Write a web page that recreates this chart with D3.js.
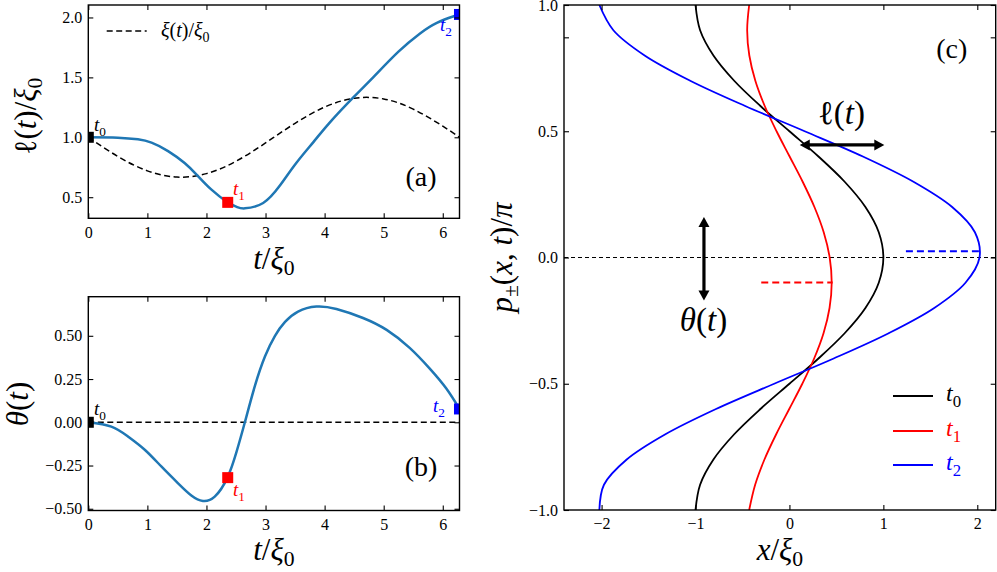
<!DOCTYPE html>
<html>
<head>
<meta charset="utf-8">
<script src="https://cdn.jsdelivr.net/npm/d3@7"></script>
<style>
  html, body { margin: 0; padding: 0; background: #fff; }
  svg { display: block; }
</style>
</head>
<body>
<script>
// ---------------- DATA ----------------
// Panel (a): ell(t)/xi0
const tEll    = [0, 0.5, 0.84, 1.07, 1.35, 1.63, 1.84, 2.08, 2.36, 2.51, 2.65, 2.96, 3.24, 3.52, 3.81, 4.09, 4.49, 4.83, 5.25, 5.61, 5.9, 6.2, 6.283];
const ellVals = [1.0, 0.997, 0.983, 0.955, 0.885, 0.785, 0.685, 0.565, 0.457, 0.42, 0.407, 0.452, 0.595, 0.785, 0.96, 1.125, 1.335, 1.505, 1.715, 1.865, 1.955, 2.012, 2.025];
// Panel (a): xi(t)/xi0 (dashed)
const tXi    = [0, 0.5, 1.0, 1.5, 2.0, 2.5, 3.0, 3.5, 4.0, 4.5, 5.0, 5.5, 6.0, 6.283];
const xiVals = [1.0, 0.84, 0.72, 0.668, 0.697, 0.80, 0.953, 1.117, 1.252, 1.326, 1.32, 1.235, 1.093, 1.0];
// Panel (b): theta(t)
const tTheta    = [0, 0.39, 0.675, 0.96, 1.24, 1.52, 1.75, 1.94, 2.14, 2.355, 2.51, 2.65, 2.82, 2.99, 3.16, 3.33, 3.55, 3.86, 4.2, 4.65, 5.05, 5.44, 5.78, 6.06, 6.283];
const thetaVals = [0, -0.025, -0.083, -0.16, -0.257, -0.353, -0.425, -0.455, -0.43, -0.32, -0.17, 0, 0.21, 0.38, 0.5, 0.58, 0.64, 0.669, 0.655, 0.603, 0.534, 0.43, 0.31, 0.195, 0.077];
// Marked times t0, t1, t2
const markNames = ["0", "1", "2"];
const markT     = [0, 2.36, 6.283];
const markEll   = [1.0, 0.457, 2.025];
const markTheta = [0.0, -0.32, 0.077];
// Panel (c): profiles x(p) at t0, t1, t2
const pGrid = [-1, -0.9, -0.8, -0.7, -0.6, -0.5, -0.4, -0.3, -0.2, -0.1, 0, 0.1, 0.2, 0.3, 0.4, 0.5, 0.6, 0.7, 0.8, 0.9, 1];
const xT0 = [-1, -0.951, -0.809, -0.588, -0.309, 0, 0.309, 0.588, 0.809, 0.951, 1, 0.951, 0.809, 0.588, 0.309, 0, -0.309, -0.588, -0.809, -0.951, -1];
const xT1 = [-0.4285, -0.365, -0.266, -0.141, -0.002, 0.137, 0.263, 0.363, 0.427, 0.45, 0.4285, 0.365, 0.266, 0.141, 0.002, -0.137, -0.263, -0.363, -0.427, -0.45, -0.4285];
const xT2 = [-2.0235, -1.9746, -1.7324, -1.3205, -0.7818, -0.1622, 0.471, 1.0566, 1.5416, 1.8743, 2.0235, 1.9746, 1.7324, 1.3205, 0.7818, 0.1622, -0.471, -1.0566, -1.5416, -1.8743, -2.0235];
// Panel (c): dashed peak markers (t2, t1)
const peakP  = [0.025, -0.099];
const peakX1 = [1.24, -0.30];
const peakX2 = [2.03, 0.46];
// Panel (c): annotation arrows
const ellArrowP = 0.446, ellArrowX = [0.11, 1.01];
const thArrowX = -0.91, thArrowP = [-0.17, 0.16];
// Tick values
const tTicks = [0, 1, 2, 3, 4, 5, 6];
const ellTicks = [0.5, 1.0, 1.5, 2.0];
const thetaTicks = [-0.5, -0.25, 0, 0.25, 0.5];
const cxTicks = [-2, -1, 0, 1, 2];
const cyTicks = [-1, -0.5, 0, 0.5, 1];

// ---------------- STYLE ----------------
const FONT = "'Liberation Serif', 'DejaVu Serif', serif";
const C_BLUE = "#1f77b4";
const markColors = ["#000000", "#ff0000", "#0000ff"];

const svg = d3.select("body").append("svg").attr("width", 997).attr("height", 572)
  .style("font-family", FONT);

function rich(g, x, y, size, parts, anchor, color, transform, subShift) {
  const t = g.append("text").attr("font-size", size).attr("fill", color || "#000")
    .attr("text-anchor", anchor || "start").style("font-family", FONT);
  if (transform) t.attr("transform", transform); else t.attr("x", x).attr("y", y);
  const ss = subShift == null ? 0.25 : subShift;
  let shifted = 0;
  parts.forEach(([s, kind]) => {
    const sp = t.append("tspan").text(s);
    const isSub = kind.startsWith("sub");
    const target = isSub ? size * ss : 0;
    const dy = target - shifted;
    if (dy !== 0) sp.attr("dy", dy);
    shifted = target;
    if (isSub) sp.attr("font-size", size * 0.7);
    if (kind.indexOf("i") >= 0) sp.attr("font-style", "italic");
  });
  return t;
}

let clipId = 0;
function panel(xs, ys) {
  const g = svg.append("g");
  const id = "clip" + (clipId++);
  const [x0, x1] = xs.range(), [y0, y1] = ys.range();
  g.append("clipPath").attr("id", id).append("rect")
    .attr("x", x0).attr("y", y1).attr("width", x1 - x0).attr("height", y0 - y1);
  const inner = g.append("g").attr("clip-path", `url(#${id})`);
  return { g, inner };
}

function axes(g, xs, ys, xt, yt, xfmt, yfmt, extraY) {
  const [x0, x1] = xs.range(), [y0, y1] = ys.range();
  const style = sel => {
    sel.select(".domain").remove();
    sel.selectAll(".tick line").attr("stroke", "#000").attr("stroke-width", 1.1);
    sel.selectAll("text").attr("font-size", 16).style("font-family", FONT).attr("fill", "#000");
    sel.attr("font-family", null).attr("font-size", null);
  };
  g.append("g").attr("transform", `translate(0,${y0})`)
    .call(d3.axisBottom(xs).tickValues(xt).tickSize(-5).tickPadding(8).tickFormat(xfmt)).call(style);
  g.append("g").attr("transform", `translate(0,${y1})`)
    .call(d3.axisTop(xs).tickValues(xt).tickSize(-5).tickFormat("")).call(style);
  g.append("g").attr("transform", `translate(${x0},0)`)
    .call(d3.axisLeft(ys).tickValues(yt).tickSize(-5).tickPadding(6).tickFormat(yfmt)).call(style);
  g.append("g").attr("transform", `translate(${x1},0)`)
    .call(d3.axisRight(ys).tickValues(yt).tickSize(-5).tickFormat("")).call(style);
  if (extraY) {
    extraY.forEach(v => {
      g.append("line").attr("x1", x0).attr("x2", x0 + 5).attr("y1", ys(v)).attr("y2", ys(v)).attr("stroke", "#000").attr("stroke-width", 1.1);
      g.append("line").attr("x1", x1).attr("x2", x1 - 5).attr("y1", ys(v)).attr("y2", ys(v)).attr("stroke", "#000").attr("stroke-width", 1.1);
    });
  }
  g.append("rect").attr("x", x0).attr("y", y1).attr("width", x1 - x0).attr("height", y0 - y1)
    .attr("fill", "none").attr("stroke", "#000").attr("stroke-width", 1.4);
}

const smooth = d3.line().curve(d3.curveNatural);

// ---------------- PANEL (a) ----------------
{
  const xs = d3.scaleLinear([0, 6.2832], [88.3, 459.5]);
  const ys = d3.scaleLinear([0.324, 2.104], [218.3, 5]);
  const { g, inner } = panel(xs, ys);
  inner.append("path").attr("d", smooth(tXi.map((t, i) => [xs(t), ys(xiVals[i])])))
    .attr("fill", "none").attr("stroke", "#000").attr("stroke-width", 1.5).attr("stroke-dasharray", "6,3.5");
  inner.append("path").attr("d", smooth(tEll.map((t, i) => [xs(t), ys(ellVals[i])])))
    .attr("fill", "none").attr("stroke", C_BLUE).attr("stroke-width", 2.5);
  markT.forEach((t, i) => {
    inner.append("rect").attr("x", xs(t) - 5.5).attr("y", ys(markEll[i]) - 5.5)
      .attr("width", 11).attr("height", 11).attr("fill", markColors[i]);
  });
  axes(g, xs, ys, tTicks, ellTicks, d3.format("d"), d3.format(".1f"));
  // legend
  g.append("line").attr("x1", 106.7).attr("x2", 146.7).attr("y1", 31).attr("y2", 31)
    .attr("stroke", "#000").attr("stroke-width", 1.5).attr("stroke-dasharray", "6,3.5");
  rich(g, 161, 37, 20, [["ξ", "i"], ["(", "r"], ["t", "i"], [")/", "r"], ["ξ", "i"], ["0", "sub"]]);
  // marker labels
  rich(g, 94, 131, 19, [["t", "i"], ["0", "sub"]], "start", markColors[0]);
  rich(g, 233, 195, 19, [["t", "i"], ["1", "sub"]], "start", markColors[1]);
  rich(g, 440, 31, 19, [["t", "i"], ["2", "sub"]], "start", markColors[2]);
  rich(g, 421, 186, 28, [["(a)", "r"]], "middle");
  rich(g, 273.9, 269, 31, [["t", "i"], ["/", "r"], ["ξ", "i"], ["0", "sub"]], "middle", "#000", null, 0.2);
  rich(g, 0, 0, 31, [["ℓ", "r"], ["(", "r"], ["t", "i"], [")/", "r"], ["ξ", "i"], ["0", "sub"]], "middle", "#000",
    "translate(36,116) rotate(-90)", 0.2);
}

// ---------------- PANEL (b) ----------------
{
  const xs = d3.scaleLinear([0, 6.2832], [88.3, 459.5]);
  const ys = d3.scaleLinear([-0.510, 0.726], [510.5, 296.7]);
  const { g, inner } = panel(xs, ys);
  inner.append("line").attr("x1", xs.range()[0]).attr("x2", xs.range()[1]).attr("y1", ys(0)).attr("y2", ys(0))
    .attr("stroke", "#000").attr("stroke-width", 1.5).attr("stroke-dasharray", "6,3.5");
  inner.append("path").attr("d", smooth(tTheta.map((t, i) => [xs(t), ys(thetaVals[i])])))
    .attr("fill", "none").attr("stroke", C_BLUE).attr("stroke-width", 2.5);
  markT.forEach((t, i) => {
    inner.append("rect").attr("x", xs(t) - 5.5).attr("y", ys(markTheta[i]) - 5.5)
      .attr("width", 11).attr("height", 11).attr("fill", markColors[i]);
  });
  axes(g, xs, ys, tTicks, thetaTicks, d3.format("d"), d3.format(".2f"));
  rich(g, 94, 415, 19, [["t", "i"], ["0", "sub"]], "start", markColors[0]);
  rich(g, 233, 496, 19, [["t", "i"], ["1", "sub"]], "start", markColors[1]);
  rich(g, 433, 412, 19, [["t", "i"], ["2", "sub"]], "start", markColors[2]);
  rich(g, 421, 476, 28, [["(b)", "r"]], "middle");
  rich(g, 273.9, 560, 31, [["t", "i"], ["/", "r"], ["ξ", "i"], ["0", "sub"]], "middle", "#000", null, 0.2);
  rich(g, 0, 0, 31, [["θ", "i"], ["(", "r"], ["t", "i"], [")", "r"]], "middle", "#000",
    "translate(28,404) rotate(-90)");
}

// ---------------- PANEL (c) ----------------
{
  const xs = d3.scaleLinear([-2.40, 2.196], [564, 995.7]);
  const ys = d3.scaleLinear([-1, 1], [510, 5]);
  const { g, inner } = panel(xs, ys);
  const line = d3.line().curve(d3.curveCatmullRom.alpha(0.5));
  inner.append("line").attr("x1", xs.range()[0]).attr("x2", xs.range()[1]).attr("y1", ys(0)).attr("y2", ys(0))
    .attr("stroke", "#000").attr("stroke-width", 1.2).attr("stroke-dasharray", "4,3");
  const profiles = [xT0, xT1, xT2];
  profiles.forEach((arr, k) => {
    inner.append("path").attr("d", line(pGrid.map((p, i) => [xs(arr[i]), ys(p)])))
      .attr("fill", "none").attr("stroke", markColors[k]).attr("stroke-width", 1.8);
  });
  // dashed peak markers: index 0 -> t2 (blue), index 1 -> t1 (red)
  const peakColors = [markColors[2], markColors[1]];
  peakP.forEach((p, i) => {
    inner.append("line").attr("x1", xs(peakX1[i])).attr("x2", xs(peakX2[i])).attr("y1", ys(p)).attr("y2", ys(p))
      .attr("stroke", peakColors[i]).attr("stroke-width", 2).attr("stroke-dasharray", "7,4");
  });
  // arrows
  const head = (x, y, dx, dy) => {
    const L = 10, Wd = 5.5, px = -dy, py = dx;
    const bx = x - dx * L, by = y - dy * L;
    return `M${x},${y}L${bx + px * Wd},${by + py * Wd}L${bx - px * Wd},${by - py * Wd}Z`;
  };
  const ax1 = xs(ellArrowX[0]), ax2 = xs(ellArrowX[1]), ay = ys(ellArrowP);
  g.append("line").attr("x1", ax1 + 8).attr("x2", ax2 - 8).attr("y1", ay).attr("y2", ay)
    .attr("stroke", "#000").attr("stroke-width", 3.2);
  g.append("path").attr("d", head(ax1, ay, -1, 0)).attr("fill", "#000");
  g.append("path").attr("d", head(ax2, ay, 1, 0)).attr("fill", "#000");
  const bx = xs(thArrowX), by1 = ys(thArrowP[0]), by2 = ys(thArrowP[1]);
  g.append("line").attr("x1", bx).attr("x2", bx).attr("y1", by1 - 8).attr("y2", by2 + 8)
    .attr("stroke", "#000").attr("stroke-width", 3.2);
  g.append("path").attr("d", head(bx, by1, 0, 1)).attr("fill", "#000");
  g.append("path").attr("d", head(bx, by2, 0, -1)).attr("fill", "#000");
  rich(g, 841.5, 124, 33, [["ℓ", "r"], ["(", "r"], ["t", "i"], [")", "r"]], "middle");
  rich(g, 703.5, 331, 33, [["θ", "i"], ["(", "r"], ["t", "i"], [")", "r"]], "middle");

  axes(g, xs, ys, cxTicks, cyTicks, d3.format("d"), d3.format(".1f"), [0.87]);

  // legend
  const legY = [396, 431, 465];
  markNames.forEach((n, i) => {
    g.append("line").attr("x1", 893).attr("x2", 933).attr("y1", legY[i]).attr("y2", legY[i])
      .attr("stroke", markColors[i]).attr("stroke-width", 1.8);
    rich(g, 946, legY[i] + 5, 24, [["t", "i"], [n, "sub"]], "start", markColors[i]);
  });
  rich(g, 951.7, 57.5, 28, [["(c)", "r"]], "middle");
  rich(g, 779.9, 560, 31, [["x", "i"], ["/", "r"], ["ξ", "i"], ["0", "sub"]], "middle", "#000", null, 0.2);
  rich(g, 0, 0, 31, [["p", "i"], ["±", "sub"], ["(", "r"], ["x", "i"], [", ", "r"], ["t", "i"], [")/", "r"], ["π", "i"]],
    "middle", "#000", "translate(512,257.5) rotate(-90)", 0.2);
}
</script>
</body>
</html>
